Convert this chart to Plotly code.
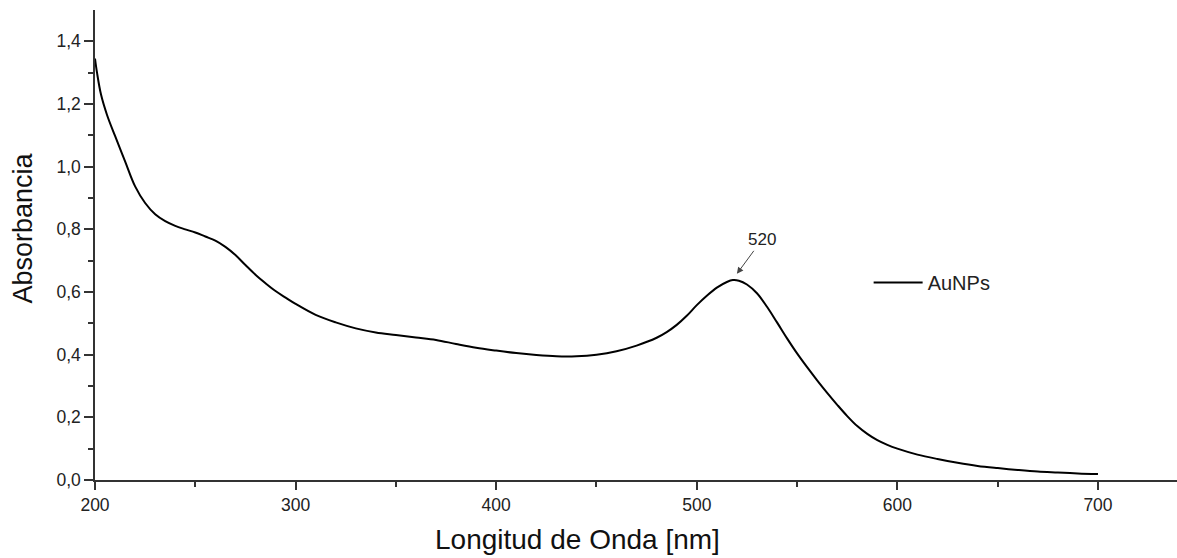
import plotly.graph_objects as go

wavelength = [200, 201, 203, 206, 210, 215, 220, 225, 230, 235, 240, 245, 250, 255, 260, 265,
              270, 275, 280, 285, 290, 295, 300, 310, 320, 330, 340, 350, 360, 370, 380, 390,
              400, 410, 420, 430, 440, 450, 460, 470, 480, 485, 490, 495, 500, 505, 510, 515,
              518, 521, 525, 530, 535, 540, 545, 550, 555, 560, 565, 570, 575, 580, 585, 590,
              595, 600, 610, 620, 630, 640, 650, 660, 670, 680, 690, 700]
absorbance = [1.345, 1.30, 1.23, 1.165, 1.098, 1.017, 0.937, 0.884, 0.848, 0.826, 0.811, 0.800,
              0.790, 0.777, 0.764, 0.744, 0.718, 0.686, 0.655, 0.628, 0.603, 0.582, 0.562,
              0.527, 0.503, 0.484, 0.471, 0.463, 0.455, 0.447, 0.434, 0.422, 0.413, 0.405,
              0.399, 0.395, 0.395, 0.400, 0.411, 0.429, 0.454, 0.472, 0.495, 0.524, 0.558,
              0.588, 0.614, 0.632, 0.638, 0.636, 0.624, 0.596, 0.553, 0.503, 0.452, 0.404,
              0.360, 0.318, 0.278, 0.240, 0.204, 0.172, 0.147, 0.127, 0.112, 0.100, 0.081,
              0.067, 0.055, 0.045, 0.038, 0.032, 0.027, 0.024, 0.021, 0.019]
series_name = "AuNPs"
peak_label = "520"
peak_x = 520
peak_y = 0.658
x_title = "Longitud de Onda [nm]"
y_title = "Absorbancia"

font = "Liberation Sans, Arial, sans-serif"

fig = go.Figure()
fig.add_trace(go.Scatter(x=wavelength, y=absorbance, mode="lines", name=series_name,
                         line=dict(color="black", width=2, shape="spline", smoothing=1)))

fig.add_annotation(x=peak_x, y=peak_y, text=peak_label, showarrow=True, arrowhead=2,
                   arrowsize=1.3, arrowwidth=1, arrowcolor="#444", ax=25, ay=-34,
                   font=dict(size=17, color="#222", family=font))

# axis titles (placed as in the reference, which is not centred on the axes)
fig.add_annotation(xref="paper", yref="paper", x=0.4455, y=0, xanchor="center", yanchor="middle",
                   yshift=-59, text=x_title, showarrow=False,
                   font=dict(size=28, color="#111", family=font))
fig.add_annotation(xref="paper", yref="paper", x=0, y=0.535, xanchor="center", yanchor="middle",
                   xshift=-72, text=y_title, textangle=-90, showarrow=False,
                   font=dict(size=27, color="#111", family=font))

fig.update_layout(
    width=1177, height=558,
    margin=dict(l=95, r=0, t=10, b=78),
    paper_bgcolor="white", plot_bgcolor="white",
    separators=",.",
    font=dict(family=font, color="#222"),
    showlegend=True,
    legend=dict(x=0.715, y=0.42, xanchor="left", yanchor="middle",
                bgcolor="rgba(0,0,0,0)", font=dict(size=20, color="#222", family=font),
                itemwidth=49),
    xaxis=dict(range=[200, 739.4], showgrid=False, zeroline=False,
               showline=True, linecolor="#333", linewidth=1.5,
               tickmode="array", tickvals=[200, 300, 400, 500, 600, 700],
               ticks="outside", ticklen=8, tickwidth=1.5, tickcolor="#333",
               tickfont=dict(size=17.5, color="#222", family=font),
               minor=dict(tickvals=[250, 350, 450, 550, 650], ticks="outside", ticklen=5,
                          tickwidth=1.5, tickcolor="#333")),
    yaxis=dict(range=[0, 1.5], showgrid=False, zeroline=False,
               showline=True, linecolor="#333", linewidth=1.5,
               tickmode="array", tickvals=[0, 0.2, 0.4, 0.6, 0.8, 1.0, 1.2, 1.4],
               tickformat=".1f",
               ticks="outside", ticklen=9, tickwidth=1.5, tickcolor="#333",
               tickfont=dict(size=17.5, color="#222", family=font),
               minor=dict(tickvals=[0.1, 0.3, 0.5, 0.7, 0.9, 1.1, 1.3], ticks="outside", ticklen=5,
                          tickwidth=1.5, tickcolor="#333")),
)

fig.write_html("out.html")
